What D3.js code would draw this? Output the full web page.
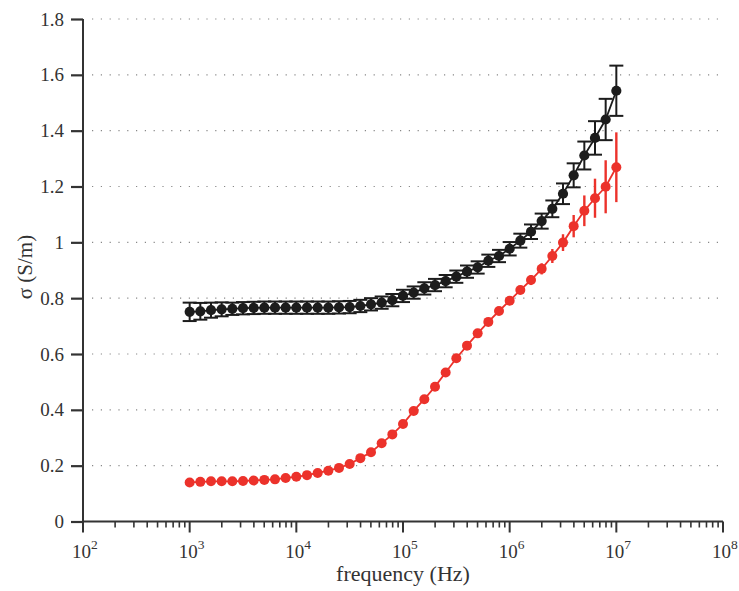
<!DOCTYPE html>
<html>
<head>
<meta charset="utf-8">
<script src="https://cdn.jsdelivr.net/npm/d3@7"></script>
<style>
  body { margin: 0; background: #fff; }
  text { font-family: "Liberation Serif", "DejaVu Serif", serif; fill: #333; }
</style>
</head>
<body>
<script>
// data: 10 points per decade, 10^3 .. 10^7 Hz
var exponents = d3.range(41).map(function(i) { return 3 + i / 10; });

var blackVals = [0.751, 0.753, 0.757, 0.760, 0.762, 0.764, 0.765, 0.766, 0.766, 0.766,
  0.766, 0.766, 0.766, 0.766, 0.767, 0.768, 0.772, 0.778, 0.784, 0.793,
  0.808, 0.820, 0.835, 0.847, 0.861, 0.877, 0.895, 0.910, 0.934, 0.951,
  0.977, 1.006, 1.038, 1.076, 1.120, 1.174, 1.240, 1.311, 1.374, 1.440, 1.543];
var blackErr = [0.033, 0.030, 0.027, 0.025, 0.022, 0.022, 0.022, 0.022, 0.022, 0.022,
  0.022, 0.022, 0.022, 0.022, 0.022, 0.022, 0.022, 0.022, 0.022, 0.022,
  0.022, 0.022, 0.022, 0.022, 0.022, 0.022, 0.022, 0.022, 0.022, 0.022,
  0.024, 0.025, 0.026, 0.027, 0.030, 0.037, 0.043, 0.050, 0.060, 0.074, 0.090];

var redVals = [0.140, 0.142, 0.144, 0.144, 0.144, 0.145, 0.147, 0.149, 0.151, 0.156,
  0.160, 0.166, 0.174, 0.182, 0.192, 0.206, 0.227, 0.248, 0.280, 0.312,
  0.349, 0.396, 0.438, 0.483, 0.534, 0.585, 0.630, 0.674, 0.715, 0.754,
  0.791, 0.829, 0.865, 0.905, 0.951, 0.999, 1.058, 1.113, 1.158, 1.199, 1.269];
var redErr = [0.012, 0.012, 0.012, 0.012, 0.012, 0.012, 0.012, 0.012, 0.012, 0.012,
  0.012, 0.012, 0.012, 0.012, 0.012, 0.012, 0.012, 0.012, 0.012, 0.012,
  0.012, 0.012, 0.012, 0.012, 0.012, 0.012, 0.012, 0.012, 0.012, 0.012,
  0.015, 0.015, 0.018, 0.020, 0.025, 0.030, 0.040, 0.055, 0.070, 0.095, 0.125];

var yTicks = [0, 0.2, 0.4, 0.6, 0.8, 1, 1.2, 1.4, 1.6, 1.8];
var xDecades = [2, 3, 4, 5, 6, 7, 8];

//settings
var width = 739, height = 591;
var margin = {left: 83, right: 16, top: 19, bottom: 69.5};

var svg = d3.select('body').append('svg')
  .attr('width', width).attr('height', height);

var x = d3.scaleLog().domain([1e2, 1e8]).range([margin.left, width - margin.right]);
var y = d3.scaleLinear().domain([0, 1.8]).range([height - margin.bottom, margin.top]);

var axisColor = '#333';

// dotted grid
svg.append('g').selectAll('line')
  .data(yTicks.filter(function(d) { return d > 0; }))
  .enter().append('line')
  .attr('x1', margin.left + 9).attr('x2', width - margin.right)
  .attr('y1', function(d) { return y(d); }).attr('y2', function(d) { return y(d); })
  .attr('stroke', '#888').attr('stroke-width', 1.2)
  .attr('stroke-dasharray', '1.2,7.6');

// y axis
var yAxis = svg.append('g')
  .attr('transform', 'translate(' + margin.left + ',0)')
  .call(d3.axisLeft(y).tickValues(yTicks).tickSize(12).tickPadding(7)
    .tickFormat(function(d) { return d === 0 || d === 1 ? d3.format('d')(d) : d3.format('.1f')(d); }));
yAxis.select('.domain').remove();
yAxis.selectAll('line').attr('stroke', axisColor).attr('stroke-width', 2.2);
yAxis.selectAll('text').style('font-size', '19px').attr('fill', axisColor);

svg.append('line')
  .attr('x1', margin.left).attr('x2', margin.left)
  .attr('y1', y(1.8)).attr('y2', y(0))
  .attr('stroke', axisColor).attr('stroke-width', 2);

// x axis
svg.append('line')
  .attr('x1', margin.left).attr('x2', width - margin.right)
  .attr('y1', y(0)).attr('y2', y(0))
  .attr('stroke', axisColor).attr('stroke-width', 2);

var minorTicks = [];
xDecades.forEach(function(e) {
  if (e < 8) {
    for (var m = 2; m <= 9; m++) minorTicks.push(m * Math.pow(10, e));
  }
});

svg.append('g').selectAll('line.minor')
  .data(minorTicks).enter().append('line')
  .attr('x1', function(d) { return x(d); }).attr('x2', function(d) { return x(d); })
  .attr('y1', y(0)).attr('y2', y(0) + 6)
  .attr('stroke', axisColor).attr('stroke-width', 1.6);

svg.append('g').selectAll('line.major')
  .data(xDecades).enter().append('line')
  .attr('x1', function(d) { return x(Math.pow(10, d)); }).attr('x2', function(d) { return x(Math.pow(10, d)); })
  .attr('y1', y(0)).attr('y2', y(0) + 11)
  .attr('stroke', axisColor).attr('stroke-width', 2);

var xLabels = svg.append('g').selectAll('text.xl')
  .data(xDecades).enter().append('text')
  .attr('x', function(d) { return x(Math.pow(10, d)) - 11; })
  .attr('y', 558)
  .style('font-size', '19px')
  .attr('fill', axisColor);
xLabels.append('tspan').text('10');
xLabels.append('tspan').attr('dy', -9).style('font-size', '13.5px')
  .text(function(d) { return d; });

svg.append('text')
  .attr('x', x(1e5)).attr('y', 581)
  .attr('text-anchor', 'middle')
  .style('font-size', '22px')
  .attr('fill', axisColor)
  .text('frequency (Hz)');

svg.append('text')
  .attr('transform', 'translate(32,' + 267 + ') rotate(-90)')
  .attr('text-anchor', 'middle')
  .style('font-size', '21px')
  .attr('fill', axisColor)
  .text('σ (S/m)');

// series
function drawSeries(vals, errs, color, r, caps, barWidth) {
  var pts = exponents.map(function(e, i) {
    return {f: Math.pow(10, e), v: vals[i], e: errs[i]};
  });
  var g = svg.append('g');
  g.append('path')
    .datum(pts)
    .attr('fill', 'none').attr('stroke', color).attr('stroke-width', 1.8)
    .attr('d', d3.line().x(function(d) { return x(d.f); }).y(function(d) { return y(d.v); }));

  g.selectAll('line.err').data(pts).enter().append('line')
    .attr('x1', function(d) { return x(d.f); }).attr('x2', function(d) { return x(d.f); })
    .attr('y1', function(d) { return y(d.v - d.e); }).attr('y2', function(d) { return y(d.v + d.e); })
    .attr('stroke', color).attr('stroke-width', barWidth);

  if (caps) {
    [-1, 1].forEach(function(s) {
      g.selectAll('line.cap' + s).data(pts).enter().append('line')
        .attr('x1', function(d) { return x(d.f) - 7; }).attr('x2', function(d) { return x(d.f) + 7; })
        .attr('y1', function(d) { return y(d.v + s * d.e); }).attr('y2', function(d) { return y(d.v + s * d.e); })
        .attr('stroke', color).attr('stroke-width', 2);
    });
  }

  g.selectAll('circle').data(pts).enter().append('circle')
    .attr('cx', function(d) { return x(d.f); })
    .attr('cy', function(d) { return y(d.v); })
    .attr('r', r)
    .attr('fill', color);
}

drawSeries(blackVals, blackErr, '#1c1c1c', 5.1, true, 2);
drawSeries(redVals, redErr, '#ec322b', 5, false, 2.4);
</script>
</body>
</html>
